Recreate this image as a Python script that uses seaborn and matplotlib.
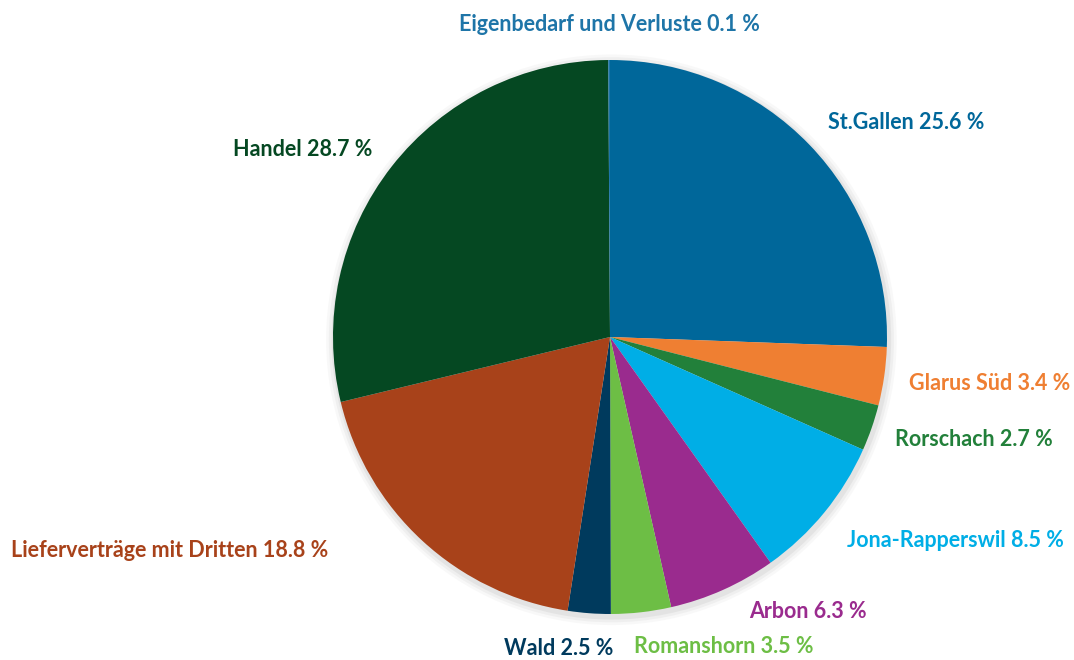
import numpy as np
import matplotlib
matplotlib.use("Agg")
import matplotlib.pyplot as plt
import seaborn as sns

# Anteile in Prozent (im Uhrzeigersinn ab 12 Uhr)
kategorien = ["St.Gallen", "Glarus Süd", "Rorschach", "Jona-Rapperswil", "Arbon",
              "Romanshorn", "Wald", "Lieferverträge mit Dritten", "Handel",
              "Eigenbedarf und Verluste"]
anteile = [25.6, 3.4, 2.7, 8.5, 6.3, 3.5, 2.5, 18.8, 28.7, 0.1]
farben = ["#00679A", "#EF7F32", "#22803A", "#00AEE6", "#9A2B8E",
          "#6DBE45", "#003A5D", "#A8421A", "#054822", "#1E75A8"]

# Beschriftungs-Layout: (Winkelkorrektur in Grad, Abstand in Radien, Ausrichtung)
label_layout = [(1, 1.11, "left"), (0, 1.09, "left"), (0, 1.09, "left"),
                (-1, 1.12, "left"), (3, 1.10, "left"), (-2, 1.11, "left"),
                (5, 1.115, "right"), (-10.7, 1.27, "right"), (-0.7, 1.10, "right"),
                (0, 1.14, "center")]


def zeichne_kuchen():
    sns.set_theme(style="white")
    plt.rcParams["font.family"] = ["Lato", "DejaVu Sans"]

    fig = plt.figure(figsize=(10.74, 6.6), dpi=100)
    ax = fig.add_axes([0, 0, 1, 1])

    palette = sns.color_palette(farben)
    # leichter Schatten
    for r, a in [(1.03, 0.05), (1.02, 0.07), (1.01, 0.10)]:
        ax.add_patch(plt.Circle((0.005, -0.01), r, color="gray", alpha=a, lw=0, zorder=0))

    wedges, _ = ax.pie(anteile, colors=palette, startangle=90, counterclock=False,
                       radius=1, wedgeprops=dict(linewidth=0))

    for w, name, wert, farbe, (dw, dist, ha) in zip(wedges, kategorien, anteile,
                                                   farben, label_layout):
        theta = np.deg2rad((w.theta1 + w.theta2) / 2 + dw)
        x, y = dist * np.cos(theta), dist * np.sin(theta) - 0.011
        ax.text(x, y, f"{name} {wert:.1f} %", ha=ha, va="center", color=farbe,
                fontsize=15.5, fontweight="bold")

    px = 277
    ax.set_xlim(-610 / px, (1074 - 610) / px)
    ax.set_ylim(-(660 - 337) / px, 337 / px)
    ax.set_aspect("equal")
    ax.axis("off")

    fig.savefig("out.png", dpi=100)


if __name__ == "__main__":
    zeichne_kuchen()
